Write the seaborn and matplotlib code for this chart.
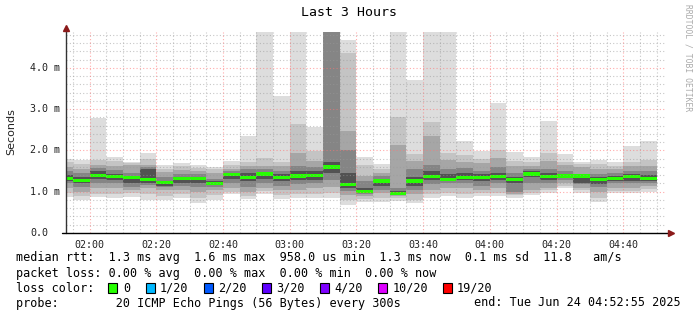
import matplotlib
matplotlib.use("Agg")
import matplotlib.pyplot as plt
import seaborn as sns
import numpy as np
import pandas as pd
from matplotlib.patches import Rectangle

sns.set_style("white")
plt.rcParams['font.family'] = ['DejaVu Sans Mono', 'DejaVu Sans']

# ---------------- data ----------------
# bar start times in minutes relative to 02:00 (5-minute steps), first bar partial
bar_start = [-7.08, -5, 0, 5, 10, 15, 20, 25, 30, 35, 40, 45, 50, 55, 60, 65, 70, 75,
             80, 85, 90, 95, 100, 105, 110, 115, 120, 125, 130, 135, 140, 145, 150, 155, 160, 165]
bar_end = [-5, 0, 5, 10, 15, 20, 25, 30, 35, 40, 45, 50, 55, 60, 65, 70, 75, 80,
           85, 90, 95, 100, 105, 110, 115, 120, 125, 130, 135, 140, 145, 150, 155, 160, 165, 170]

# median rtt (ms)
median = [1.32, 1.28, 1.40, 1.36, 1.34, 1.29, 1.22, 1.31, 1.33, 1.19, 1.42, 1.35, 1.43, 1.34,
          1.38, 1.39, 1.60, 1.17, 1.00, 1.26, 0.95, 1.26, 1.37, 1.30, 1.34, 1.34, 1.36, 1.30,
          1.43, 1.37, 1.38, 1.38, 1.29, 1.31, 1.36, 1.31]

# smoke layers (ms): outermost (min/max) to innermost
l1_lo = [0.88, 0.80, 0.88, 0.86, 0.88, 0.80, 0.80, 0.84, 0.72, 0.80, 0.94, 0.82, 0.94, 0.82,
         0.84, 0.84, 0.86, 0.68, 0.74, 0.76, 0.78, 0.72, 0.86, 0.90, 0.86, 0.90, 0.90, 0.84,
         0.92, 0.96, 1.10, 0.98, 0.74, 0.96, 0.96, 1.00]
l1_hi = [1.79, 1.76, 2.78, 1.84, 1.72, 1.94, 1.64, 1.70, 1.64, 1.60, 1.74, 2.34, 4.90, 3.32,
         4.90, 2.58, 4.90, 4.68, 1.84, 1.68, 4.90, 3.70, 4.90, 4.90, 2.24, 1.98, 3.14, 1.96,
         1.83, 2.72, 1.91, 1.73, 1.76, 1.72, 2.12, 2.22]
l2_lo = [0.98, 0.90, 0.95, 0.95, 0.98, 0.95, 0.90, 0.95, 0.85, 0.93, 1.00, 0.90, 1.02, 0.92,
         0.95, 0.95, 0.98, 0.80, 0.82, 0.85, 0.85, 0.80, 0.95, 0.98, 0.95, 0.98, 0.98, 0.92,
         0.98, 1.03, 1.15, 1.05, 0.85, 1.02, 1.02, 1.06]
l2_hi = [1.72, 1.68, 1.76, 1.74, 1.70, 1.80, 1.55, 1.62, 1.58, 1.55, 1.65, 1.72, 1.81, 1.72,
         2.63, 1.98, 4.90, 4.36, 1.65, 1.55, 2.82, 1.92, 2.68, 1.95, 1.90, 1.80, 2.00, 1.75,
         1.72, 1.95, 1.72, 1.66, 1.66, 1.62, 1.72, 1.76]
l3_lo = [1.10, 1.00, 1.08, 1.08, 1.05, 1.10, 1.05, 1.05, 1.00, 1.05, 1.08, 1.00, 1.10, 1.05,
         1.05, 1.08, 1.12, 0.92, 0.90, 0.98, 0.90, 0.95, 1.05, 1.08, 1.08, 1.05, 1.08, 0.95,
         1.05, 1.10, 1.20, 1.10, 1.00, 1.10, 1.10, 1.14]
l3_hi = [1.60, 1.55, 1.65, 1.62, 1.65, 1.65, 1.48, 1.52, 1.50, 1.45, 1.56, 1.62, 1.62, 1.62,
         1.94, 1.75, 4.90, 2.46, 1.38, 1.45, 2.14, 1.75, 2.34, 1.78, 1.72, 1.70, 1.82, 1.62,
         1.62, 1.75, 1.65, 1.60, 1.55, 1.55, 1.62, 1.62]
l4_lo = [1.20, 1.12, 1.20, 1.20, 1.12, 1.16, 1.12, 1.15, 1.12, 1.12, 1.20, 1.12, 1.22, 1.15,
         1.18, 1.20, 1.28, 1.02, 0.95, 1.05, 0.93, 1.05, 1.18, 1.20, 1.20, 1.15, 1.20, 1.00,
         1.20, 1.20, 1.28, 1.18, 1.12, 1.20, 1.20, 1.22]
l4_hi = [1.50, 1.45, 1.57, 1.52, 1.45, 1.60, 1.35, 1.42, 1.42, 1.32, 1.50, 1.55, 1.55, 1.50,
         1.62, 1.60, 4.90, 2.00, 1.25, 1.38, 1.10, 1.55, 1.65, 1.55, 1.58, 1.50, 1.60, 1.45,
         1.56, 1.55, 1.50, 1.42, 1.42, 1.45, 1.50, 1.50]
l5_lo = [1.27, 1.20, 1.30, 1.28, 1.22, 1.22, 1.15, 1.22, 1.20, 1.16, 1.30, 1.25, 1.32, 1.25,
         1.28, 1.28, 1.45, 1.10, 0.98, 1.15, 0.95, 1.15, 1.28, 1.26, 1.28, 1.25, 1.28, 1.20,
         1.35, 1.28, 1.33, 1.20, 1.18, 1.26, 1.26, 1.27]
l5_hi = [1.40, 1.35, 1.50, 1.44, 1.38, 1.55, 1.27, 1.36, 1.36, 1.26, 1.46, 1.45, 1.48, 1.42,
         1.50, 1.50, 1.72, 1.45, 1.10, 1.30, 1.02, 1.35, 1.50, 1.42, 1.45, 1.42, 1.46, 1.35,
         1.50, 1.46, 1.44, 1.40, 1.35, 1.38, 1.42, 1.40]

x_ticks = [0, 20, 40, 60, 80, 100, 120, 140, 160]
x_labels = ["02:00", "02:20", "02:40", "03:00", "03:20", "03:40", "04:00", "04:20", "04:40"]
y_ticks = [0, 1, 2, 3, 4]
y_labels = ["0.0", "1.0 m", "2.0 m", "3.0 m", "4.0 m"]

loss_labels = ["0", "1/20", "2/20", "3/20", "4/20", "10/20", "19/20"]
loss_colors = ["#26ff00", "#00b8ff", "#0059ff", "#5e00ff", "#7e00ff", "#dd00ff", "#ff0000"]

layer_colors = ["#dddddd", "#c4c4c4", "#a6a6a6", "#858585", "#525252"]

df = pd.DataFrame({"start": bar_start, "end": bar_end, "median": median,
                   "l1_lo": l1_lo, "l1_hi": l1_hi, "l2_lo": l2_lo, "l2_hi": l2_hi,
                   "l3_lo": l3_lo, "l3_hi": l3_hi, "l4_lo": l4_lo, "l4_hi": l4_hi,
                   "l5_lo": l5_lo, "l5_hi": l5_hi})
df["width"] = df["end"] - df["start"]

# ---------------- figure ----------------
W, H = 697, 315
fig = plt.figure(figsize=(W / 100, H / 100), dpi=100)
ax_left, ax_right, ax_top, ax_bot = 66, 666.3, 32, 233
ax = fig.add_axes([ax_left / W, (H - ax_bot) / H, (ax_right - ax_left) / W, (ax_bot - ax_top) / H])

YMAX = 4.87
ax.set_xlim(-7.08, 172.92)
ax.set_ylim(0, YMAX)

for i in range(1, 6):
    lo = df[f"l{i}_lo"].clip(upper=YMAX)
    hi = df[f"l{i}_hi"].clip(upper=YMAX)
    ax.bar(df["start"], hi - lo, width=df["width"], bottom=lo, align="edge",
           color=layer_colors[i - 1], linewidth=0, zorder=1 + i * 0.1)

band = 0.075
ax.bar(df["start"], band, width=df["width"], bottom=df["median"] - band / 2, align="edge",
       color=loss_colors[0], linewidth=0, zorder=2)

# grid (drawn on top like rrdtool)
minor_c = (0.6, 0.6, 0.6, 0.55)
major_c = (1.0, 0.45, 0.45, 0.6)
for yv in np.arange(0.2, YMAX, 0.2):
    if abs(yv - round(yv)) < 1e-6:
        continue
    ax.axhline(yv, color=minor_c, lw=0.8, ls=(0, (1, 2)), zorder=3)
for yv in [1, 2, 3, 4]:
    ax.axhline(yv, color=major_c, lw=0.8, ls=(0, (1, 2)), zorder=3)
for xv in np.arange(-5, 172, 5):
    if xv % 20 == 0:
        continue
    ax.axvline(xv, color=minor_c, lw=0.8, ls=(0, (1, 2)), zorder=3)
for xv in x_ticks:
    ax.axvline(xv, color=major_c, lw=0.8, ls=(0, (1, 2)), zorder=3)

for s in ax.spines.values():
    s.set_visible(False)

# axis lines with arrows
ax.plot([0, 0], [0, 1.0 + 4 / 201], transform=ax.transAxes, color="#333333", lw=1,
        clip_on=False, zorder=5)
ax.plot([-4 / 600, 1 + 5 / 600], [0, 0], transform=ax.transAxes, color="#000000", lw=1,
        clip_on=False, zorder=5)
ax.plot([0], [1.0 + 4 / 201], transform=ax.transAxes, marker="^", color="#8b1a1a",
        markersize=4, clip_on=False, zorder=6)
ax.plot([1 + 5 / 600], [0], transform=ax.transAxes, marker=">", color="#8b1a1a",
        markersize=4, clip_on=False, zorder=6)

ax.set_xticks(x_ticks)
ax.set_xticklabels(x_labels)
ax.set_yticks(y_ticks)
ax.set_yticklabels([])
ax.tick_params(axis="both", length=3, width=1, color="#444444", labelsize=7.2,
               labelcolor="#222222", pad=2)
ax.set_ylabel("")

# y tick labels, left aligned like rrdtool
px_per_ms = (ax_bot - ax_top) / YMAX
for v, lab in zip(y_ticks, y_labels):
    fig.text(30 / W, 1 - (ax_bot - v * px_per_ms) / H, lab, ha="left", va="center",
             fontsize=7.2, color="#222222")

# texts
def ftext(x, y, s, **kw):
    fig.text(x / W, 1 - y / H, s, **kw)

ftext(349, 13, "Last 3 Hours", ha="center", va="center", fontsize=9.5, color="#000000")
ftext(11, 132, "Seconds", ha="center", va="center", rotation=90, fontsize=8,
      family="DejaVu Sans", color="#222222")
ftext(688, 4, "RRDTOOL / TOBI OETIKER", ha="center", va="top", rotation=270,
      fontsize=5.8, color="#aaaaaa")

fs = 8.5
ftext(16, 258, "median rtt:  1.3 ms avg  1.6 ms max  958.0 us min  1.3 ms now  0.1 ms sd  11.8   am/s",
      ha="left", va="center", fontsize=fs, color="#000000")
ftext(16, 273, "packet loss: 0.00 % avg  0.00 % max  0.00 % min  0.00 % now",
      ha="left", va="center", fontsize=fs, color="#000000")
ftext(16, 288, "loss color:", ha="left", va="center", fontsize=fs, color="#000000")
box_x = [108, 146, 204, 262, 320, 378, 443]
lab_x = [123.7, 160, 218, 276, 334, 392.5, 457]
for bx, lx, lab, col in zip(box_x, lab_x, loss_labels, loss_colors):
    fig.patches.append(Rectangle((bx / W, 1 - 293 / H), 8.5 / W, 10 / H, transform=fig.transFigure,
                                 facecolor=col, edgecolor="#000000", lw=0.8))
    ftext(lx, 288, lab, ha="left", va="center", fontsize=fs, color="#000000")
ftext(16, 303, "probe:        20 ICMP Echo Pings (56 Bytes) every 300s",
      ha="left", va="center", fontsize=fs, color="#000000")
ftext(681, 303, "end: Tue Jun 24 04:52:55 2025", ha="right", va="center", fontsize=fs,
      color="#000000")

fig.savefig("out.png", dpi=100)
